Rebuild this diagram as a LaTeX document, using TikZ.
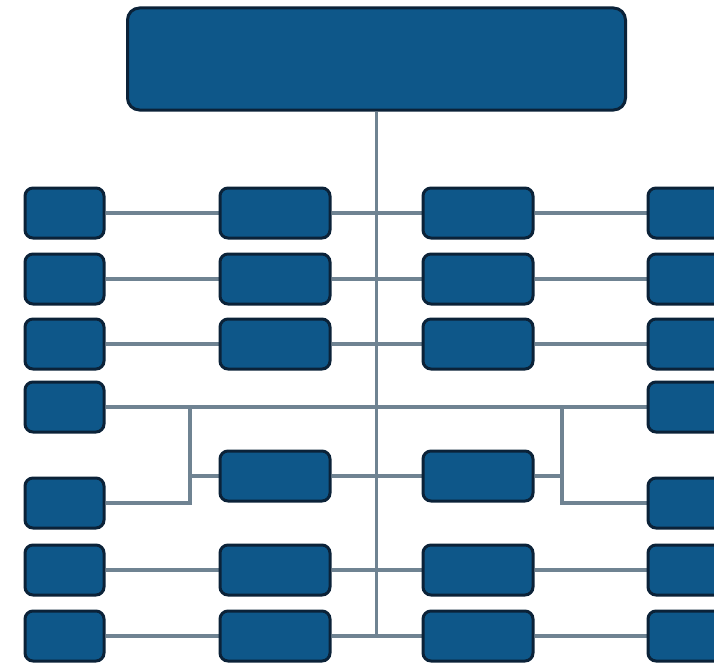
\documentclass[tikz,border=0pt]{standalone}
\usetikzlibrary{backgrounds}
\definecolor{boxfill}{HTML}{0E5789}
\definecolor{boxedge}{HTML}{0B2238}
\definecolor{linkcol}{HTML}{6F8392}
\begin{document}
\begin{tikzpicture}[x=1pt,y=-1pt,
  box/.style={draw=boxedge,fill=boxfill,line width=3pt,rounded corners=8pt,inner sep=0pt},
  smallbox/.style={box,minimum width=79pt,minimum height=50pt},
  widebox/.style={box,minimum width=110pt,minimum height=50pt},
  topbox/.style={box,rounded corners=12pt,minimum width=498pt,minimum height=102pt},
  link/.style={draw=linkcol,line width=3.4pt}]
\useasboundingbox (0,0) rectangle (714,669);
\clip (0,0) rectangle (714,669);
% top
\node[topbox] (top) at (376.5,59) {};
% left column
\node[smallbox] (L1) at (64.5,213) {};
\node[smallbox] (L2) at (64.5,279) {};
\node[smallbox] (L3) at (64.5,344) {};
\node[smallbox] (L4) at (64.5,407) {};
\node[smallbox] (L5) at (64.5,503) {};
\node[smallbox] (L6) at (64.5,570) {};
\node[smallbox] (L7) at (64.5,636) {};
% second column
\node[widebox] (A1) at (275,213) {};
\node[widebox] (A2) at (275,279) {};
\node[widebox] (A3) at (275,344) {};
\node[widebox] (A5) at (275,476) {};
\node[widebox] (A6) at (275,570) {};
\node[widebox] (A7) at (275,636) {};
% third column
\node[widebox] (B1) at (478,213) {};
\node[widebox] (B2) at (478,279) {};
\node[widebox] (B3) at (478,344) {};
\node[widebox] (B5) at (478,476) {};
\node[widebox] (B6) at (478,570) {};
\node[widebox] (B7) at (478,636) {};
% right column
\node[widebox] (R1) at (703,213) {};
\node[widebox] (R2) at (703,279) {};
\node[widebox] (R3) at (703,344) {};
\node[widebox] (R4) at (703,407) {};
\node[widebox] (R5) at (703,503) {};
\node[widebox] (R6) at (703,570) {};
\node[widebox] (R7) at (703,636) {};
\coordinate (jl) at (190,407);
\coordinate (jr) at (562,407);
\begin{scope}[on background layer]
\fill[white] (0,0) rectangle (714,669);
\path[link] (top.south) -- (top.south |- L7.east);
\foreach \r in {1,2,3,6,7}{
  \path[link] (L\r.east) -- (A\r.west);
  \path[link] (A\r.east) -- (B\r.west);
  \path[link] (B\r.east) -- (R\r.west);
}
\path[link] (L4.east) -- (R4.west);
\path[link] (A5.east) -- (B5.west);
\path[link] (A5.west) -- (A5.west -| jl);
\path[link] (jl) |- (L5.east);
\path[link] (B5.east) -- (B5.east -| jr);
\path[link] (jr) |- (R5.west);
\end{scope}
\end{tikzpicture}
\end{document}
